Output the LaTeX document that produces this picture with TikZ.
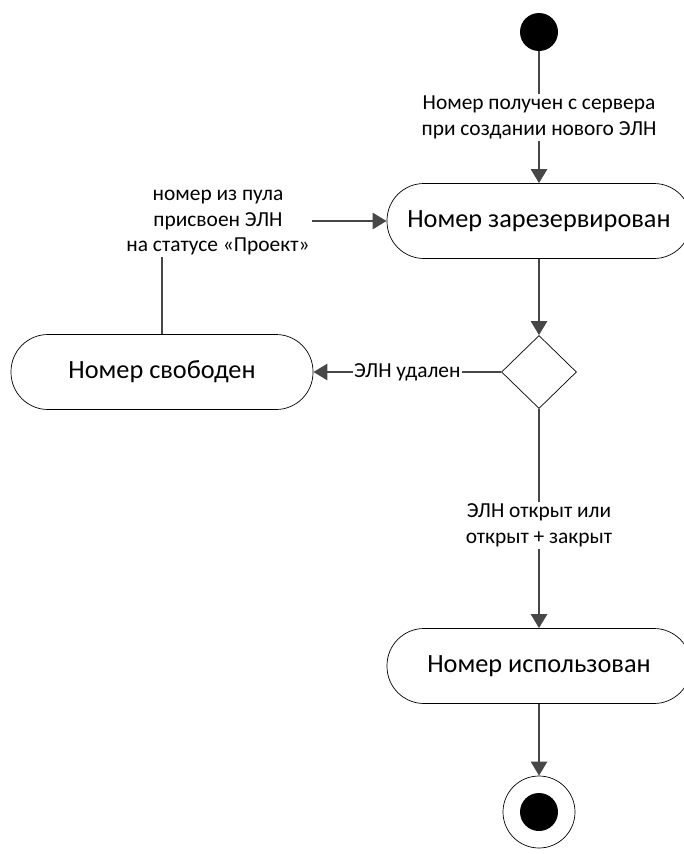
\documentclass[tikz,border=0pt]{standalone}
\usepackage{fontspec}
\setmainfont{Carlito}
\usetikzlibrary{arrows.meta,shapes.geometric}
\begin{document}
\begin{tikzpicture}[x=1pt,y=-1pt,
  statebox/.style={draw=black, line width=0.7pt, fill=white, rounded corners=37pt,
    minimum width=304pt, minimum height=75pt, inner sep=0pt,
    font=\fontsize{26.3}{31}\selectfont},
  conn/.style={draw=black!72, line width=2.6pt, -{Triangle[length=14pt,width=16pt]}},
  lbl/.style={fill=white, inner sep=2pt, align=center, text=black,
    font=\fontsize{21.4}{25.5}\selectfont}]
\useasboundingbox (0,0) rectangle (684,854);
\clip (0,0) rectangle (684,854);
\node[circle, fill=black, minimum size=38pt, inner sep=0pt] (start) at (539,32) {};
\node[statebox] (res) at (539,221) {Номер зарезервирован};
\node[diamond, draw=black, line width=0.7pt, fill=white, minimum width=75pt, minimum height=73pt, inner sep=0pt] (dec) at (539,372) {};
\node[statebox, minimum width=302pt] (free) at (162,372) {Номер свободен};
\node[statebox] (used) at (539,666) {Номер использован};
\node[circle, draw=black, line width=0.7pt, fill=white, minimum size=72pt, inner sep=0pt] (end) at (539,812) {};
\node[circle, fill=black, minimum size=38pt, inner sep=0pt] (endin) at (539,812) {};

\draw[conn] (start) -- node[lbl]{Номер получен с сервера\\при создании нового ЭЛН} (res);
\draw[conn] (res) -- (dec);
\draw[conn] (dec) -- node[lbl, inner sep=1pt]{ЭЛН удален} (free);
\draw[conn] (dec) -- node[lbl, pos=0.53]{ЭЛН открыт или\\открыт + закрыт} (used);
\draw[conn] (used) -- (end);
\draw[conn] (free) |- (res);
\node[lbl] (poollbl) at (218,223) {номер из пула\\присвоен ЭЛН\\на статусе «Проект»};
\end{tikzpicture}
\end{document}
